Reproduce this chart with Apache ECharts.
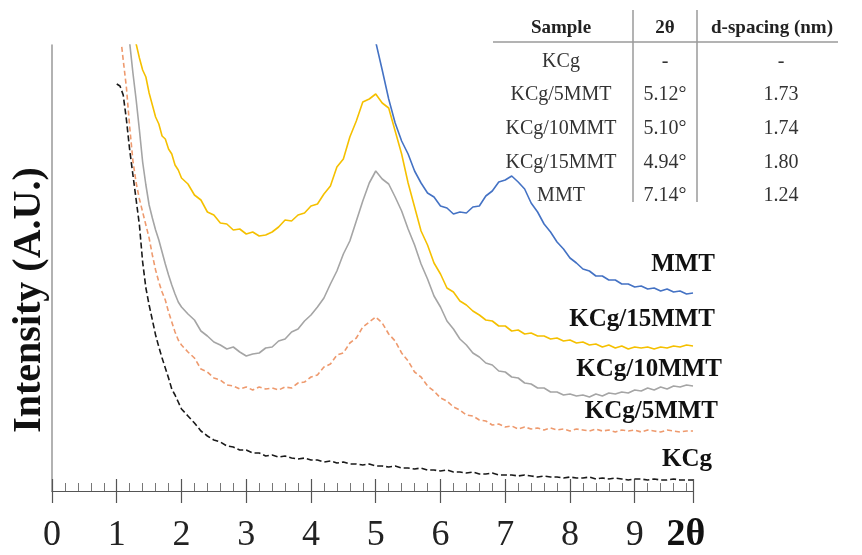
<!DOCTYPE html>
<html>
<head>
<meta charset="utf-8">
<script src="https://cdn.jsdelivr.net/npm/echarts@6/dist/echarts.min.js"></script>
<style>
html,body{margin:0;padding:0;background:#fff;}
#chart{width:862px;height:555px;}
</style>
</head>
<body>
<div id="chart"></div>
<script>
// 2θ sampling positions
var twoTheta = [1.00,1.05,1.10,1.15,1.20,1.25,1.30,1.35,1.40,1.45,1.50,1.55,1.60,1.65,1.70,1.75,1.80,1.85,1.90,1.95,2.00,
  2.1,2.2,2.3,2.4,2.5,2.6,2.7,2.8,2.9,3.0,
  3.1,3.2,3.3,3.4,3.5,3.6,3.7,3.8,3.9,4.0,
  4.1,4.2,4.3,4.4,4.5,4.6,4.7,4.8,4.9,5.0,
  5.1,5.2,5.3,5.4,5.5,5.6,5.7,5.8,5.9,6.0,
  6.1,6.2,6.3,6.4,6.5,6.6,6.7,6.8,6.9,7.0,
  7.1,7.2,7.3,7.4,7.5,7.6,7.7,7.8,7.9,8.0,
  8.1,8.2,8.3,8.4,8.5,8.6,8.7,8.8,8.9,9.0,
  9.1,9.2,9.3,9.4,9.5,9.6,9.7,9.8,9.9];

var kcg = [407,405,396,371,341,316,291,266,229,203,186,171,156,144,133,123,113,102,96,89,82,
  75,68,60,55,51,49,45,44,41,41,
  38,38,35,36,34,35,33,32,33,31,
  31,29,30,28,29,27,27,26,27,25,
  25,24,25,23,23,22,23,21,21,20,
  21,19,19,18,19,17,17,18,16,16,
  16,15,16,15,14,15,14,14,13,14,
  13,13,14,12,13,12,13,12,11,12,
  12,11,12,11,11,12,11,11,11];

var kcg5 = [null,460,431,403,364,330,308,292,279,266,253,236,221,209,199,191,179,169,159,151,146,
  139,133,122,119,113,111,106,105,102,104,
  101,104,102,103,101,104,103,108,109,114,
  116,124,127,136,138,148,153,164,169,174,
  168,157,150,138,130,119,114,105,100,93,
  90,84,81,76,75,71,70,66,67,64,
  65,62,64,62,63,61,63,61,62,60,
  62,61,60,62,60,61,59,61,60,61,
  59,61,60,59,61,60,59,60,60];

var kcg10 = [null,null,null,480,448,418,391,361,329,306,286,273,261,251,239,227,216,206,197,189,184,
  177,171,160,155,149,146,142,144,139,135,
  137,138,143,144,150,152,159,162,170,176,
  184,193,207,220,237,250,270,290,308,320,
  312,307,294,280,262,246,227,212,195,184,
  170,162,152,146,138,134,128,126,120,119,
  114,113,108,107,103,103,99,99,96,97,
  95,96,94,97,95,98,97,99,98,101,
  100,103,101,104,102,105,104,106,105];

var kcg15 = [null,null,null,null,null,475,447,433,421,414,398,386,374,367,355,352,342,337,326,321,313,
  307,296,291,279,276,268,267,261,262,257,
  259,255,256,259,264,271,270,276,278,285,
  287,297,305,324,332,354,370,389,392,397,
  388,383,360,337,308,284,260,246,228,217,
  203,199,190,186,180,176,171,170,165,165,
  160,161,157,158,155,155,152,153,150,151,
  148,149,146,147,144,146,143,145,142,144,
  143,144,142,144,143,145,144,146,145];

var mmt = [null,null,null,null,null,null,null,null,null,null,null,null,null,null,null,null,null,null,null,null,null,
  null,null,null,null,null,null,null,null,null,null,
  null,null,null,null,null,null,null,null,null,null,
  null,null,null,null,null,null,null,null,490,449,
  421,392,368,350,337,320,308,298,294,285,
  283,277,279,278,284,285,295,300,309,311,
  315,309,302,288,279,267,259,249,242,233,
  228,222,220,215,215,211,211,207,207,204,
  205,202,203,200,202,199,200,197,198];

var seriesNames = ['KCg','KCg/5MMT','KCg/10MMT','KCg/15MMT','MMT'];
var xTickLabels = ['0','1','2','3','4','5','6','7','8','9'];

// table
var tableHeader = ['Sample','2θ','d-spacing (nm)'];
var tableSamples = ['KCg','KCg/5MMT','KCg/10MMT','KCg/15MMT','MMT'];
var tableAngles = ['-','5.12°','5.10°','4.94°','7.14°'];
var tableSpacing = ['-','1.73','1.74','1.80','1.24'];

function pts(vals){
  var out=[];
  for(var i=0;i<twoTheta.length;i++){ if(vals[i]!==null) out.push([twoTheta[i], vals[i]]); }
  return out;
}

var FONT = '"Liberation Serif","Times New Roman",serif';
var chart = echarts.init(document.getElementById('chart'), null, {renderer:'canvas'});

var styles = [
  {color:'#1a1a1a', type:[6,3]},
  {color:'#EE9A6E', type:[5,3]},
  {color:'#A5A5A5', type:'solid'},
  {color:'#F5C000', type:'solid'},
  {color:'#4472C4', type:'solid'}
];
var dataSets = [kcg, kcg5, kcg10, kcg15, mmt];

var series = seriesNames.map(function(n,i){
  return {
    name:n, type:'line', xAxisIndex:0, yAxisIndex:0, data:pts(dataSets[i]),
    showSymbol:false, symbol:'none', clip:true, smooth:false,
    lineStyle:{color:styles[i].color, width:1.6, type:styles[i].type},
    z: 2+i
  };
});

// graphic elements
var g = [];
// y axis title
g.push({type:'text', x:30, y:300, rotation:Math.PI/2,
  style:{text:'Intensity (A.U.)', font:'bold 40px '+FONT, fill:'#111', align:'center', verticalAlign:'middle'}});
// 2θ axis end label
g.push({type:'text', x:686, y:535,
  style:{text:'2θ', font:'bold 38px '+FONT, fill:'#111', align:'center', verticalAlign:'middle'}});
// series labels
var labelPos = [[712,460],[718,412],[722,370],[715,320],[715,265]];
seriesNames.forEach(function(n,i){
  g.push({type:'text', x:labelPos[i][0], y:labelPos[i][1],
    style:{text:n, font:'bold 25px '+FONT, fill:'#111', align:'right', verticalAlign:'middle'}});
});
// table lines
g.push({type:'line', shape:{x1:493,y1:42,x2:838,y2:42}, style:{stroke:'#9a9a9a', lineWidth:1.5}});
g.push({type:'line', shape:{x1:633,y1:10,x2:633,y2:202}, style:{stroke:'#9a9a9a', lineWidth:1.5}});
g.push({type:'line', shape:{x1:697,y1:10,x2:697,y2:202}, style:{stroke:'#9a9a9a', lineWidth:1.5}});
var colX = [561, 665, 772];
tableHeader.forEach(function(h,i){
  g.push({type:'text', x:colX[i], y:28, style:{text:h, font:'bold 19px '+FONT, fill:'#222', align:'center', verticalAlign:'middle'}});
});
var rowY = [62, 95, 129, 163, 196];
for (var r=0;r<tableSamples.length;r++){
  g.push({type:'text', x:colX[0], y:rowY[r], style:{text:tableSamples[r], font:'20px '+FONT, fill:'#333', align:'center', verticalAlign:'middle'}});
  g.push({type:'text', x:colX[1], y:rowY[r], style:{text:tableAngles[r], font:'20px '+FONT, fill:'#333', align:'center', verticalAlign:'middle'}});
  g.push({type:'text', x:781, y:rowY[r], style:{text:tableSpacing[r], font:'20px '+FONT, fill:'#333', align:'center', verticalAlign:'middle'}});
}

var option = {
  animation:false,
  backgroundColor:'#fff',
  grid:{left:52, right:169, top:45, bottom:64, containLabel:false},
  xAxis:[
    {type:'value', min:0, max:9.9, interval:0.2, position:'bottom',
     axisLine:{show:true, lineStyle:{color:'#555', width:1.2}},
     axisTick:{show:true, inside:true, length:8, lineStyle:{color:'#777', width:1}},
     axisLabel:{show:false}, splitLine:{show:false}},
    {type:'value', min:0, max:9.9, interval:1, position:'bottom',
     axisLine:{show:false},
     axisTick:{show:true, inside:false, length:12, lineStyle:{color:'#555', width:1.2}},
     axisLabel:{show:true, margin:27, fontFamily:FONT, fontSize:36, color:'#222',
       formatter:function(v){ var k=Math.round(v); return (Math.abs(v-k)<1e-6 && k<xTickLabels.length) ? xTickLabels[k] : ''; }},
     splitLine:{show:false}},
    {type:'value', min:0, max:9.9, interval:1, position:'bottom',
     axisLine:{show:false},
     axisTick:{show:true, inside:true, length:12, lineStyle:{color:'#555', width:1.2}},
     axisLabel:{show:false}, splitLine:{show:false}}
  ],
  yAxis:{type:'value', min:0, max:446, position:'left',
    axisLine:{show:true, lineStyle:{color:'#999', width:1.5}},
    axisTick:{show:false}, axisLabel:{show:false}, splitLine:{show:false}},
  series:series,
  graphic:g
};
chart.setOption(option);
</script>
</body>
</html>
